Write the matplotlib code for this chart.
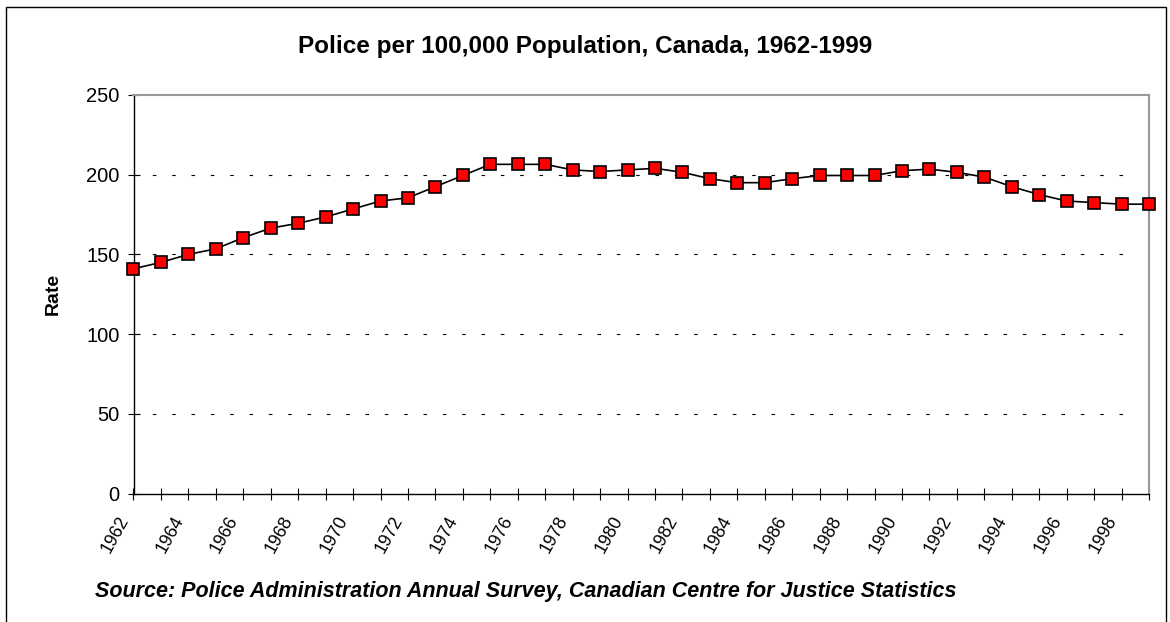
import numpy as np
import matplotlib.pyplot as plt
from matplotlib.patches import Rectangle
from matplotlib.transforms import ScaledTranslation

years = list(range(1962, 2000))
rate = [141, 145, 150, 153.5, 160.5, 166.5, 169.5, 173.5, 178.5, 183.5,
        185.5, 192.5, 199.5, 206.5, 206.5, 206.5, 203, 202, 203, 204,
        201.5, 197.5, 195, 195, 197.5, 199.5, 199.5, 199.5, 202.5, 203.5,
        201.5, 198.5, 192.5, 187.5, 183.5, 182.5, 181.5, 181.5]
tick_years = list(range(1962, 2000, 2))

title = "Police per 100,000 Population, Canada, 1962-1999"
source = "Source: Police Administration Annual Survey, Canadian Centre for Justice Statistics"

plt.rcParams['font.family'] = ['Liberation Sans', 'DejaVu Sans']

W, H = 1170, 622
fig = plt.figure(figsize=(W / 100, H / 100), dpi=100)
ax = fig.add_axes([133.5 / W, 1 - 493.5 / H, (1149 - 133.5) / W, (493.5 - 95) / H])

# dashed gridlines
for v in [50, 100, 150, 200]:
    ax.plot([1962, 1998.5], [v, v], color='black', lw=0.8,
            dashes=(3.2, 14.2), zorder=1)

ax.plot(years, rate, color='black', lw=1.2, marker='s', markersize=9,
        markerfacecolor='#ff0000', markeredgecolor='black', markeredgewidth=1.2,
        clip_on=False, zorder=3)

ax.set_xlim(1962, 1999)
ax.set_ylim(0, 250)
ax.set_yticks([0, 50, 100, 150, 200, 250])
ax.set_xticks(years)
ax.set_xticklabels([str(y) if y in tick_years else '' for y in years],
                   rotation=61, ha='right', va='center', rotation_mode='anchor',
                   fontsize=12.8)
ax.tick_params(axis='x', direction='inout', length=8.5, width=0.8, pad=13)
ax.tick_params(axis='y', direction='inout', length=8, width=0.8, labelsize=14.5, pad=6)

# shift year labels a little left, as in the original
shift = ScaledTranslation(-9 / 100, 0, fig.dpi_scale_trans)
for t in ax.xaxis.get_major_ticks():
    t.label1.set_transform(t.label1.get_transform() + shift)

for s in ['left', 'bottom']:
    ax.spines[s].set_color('black')
    ax.spines[s].set_linewidth(1.0)
for s in ['top', 'right']:
    ax.spines[s].set_color('#999999')
    ax.spines[s].set_linewidth(1.5)

ax.set_ylabel('Rate', fontsize=14, fontweight='bold')
ax.yaxis.set_label_coords((53 - 133.5) / (1149 - 133.5), 0.5)
ax.yaxis.label.set_va('center')

fig.text(585 / W, 1 - 47 / H, title, ha='center', va='center',
         fontsize=17.5, fontweight='bold')
fig.text(95 / W, 1 - 592 / H, source, ha='left', va='center',
         fontsize=15.5, fontweight='bold', style='italic')

fig.patches.append(Rectangle((6 / W, -0.02), (1166 - 6) / W, 1.02 - 7 / H,
                             transform=fig.transFigure, fill=False,
                             edgecolor='black', lw=1.0))

fig.savefig('out.png', dpi=100)
